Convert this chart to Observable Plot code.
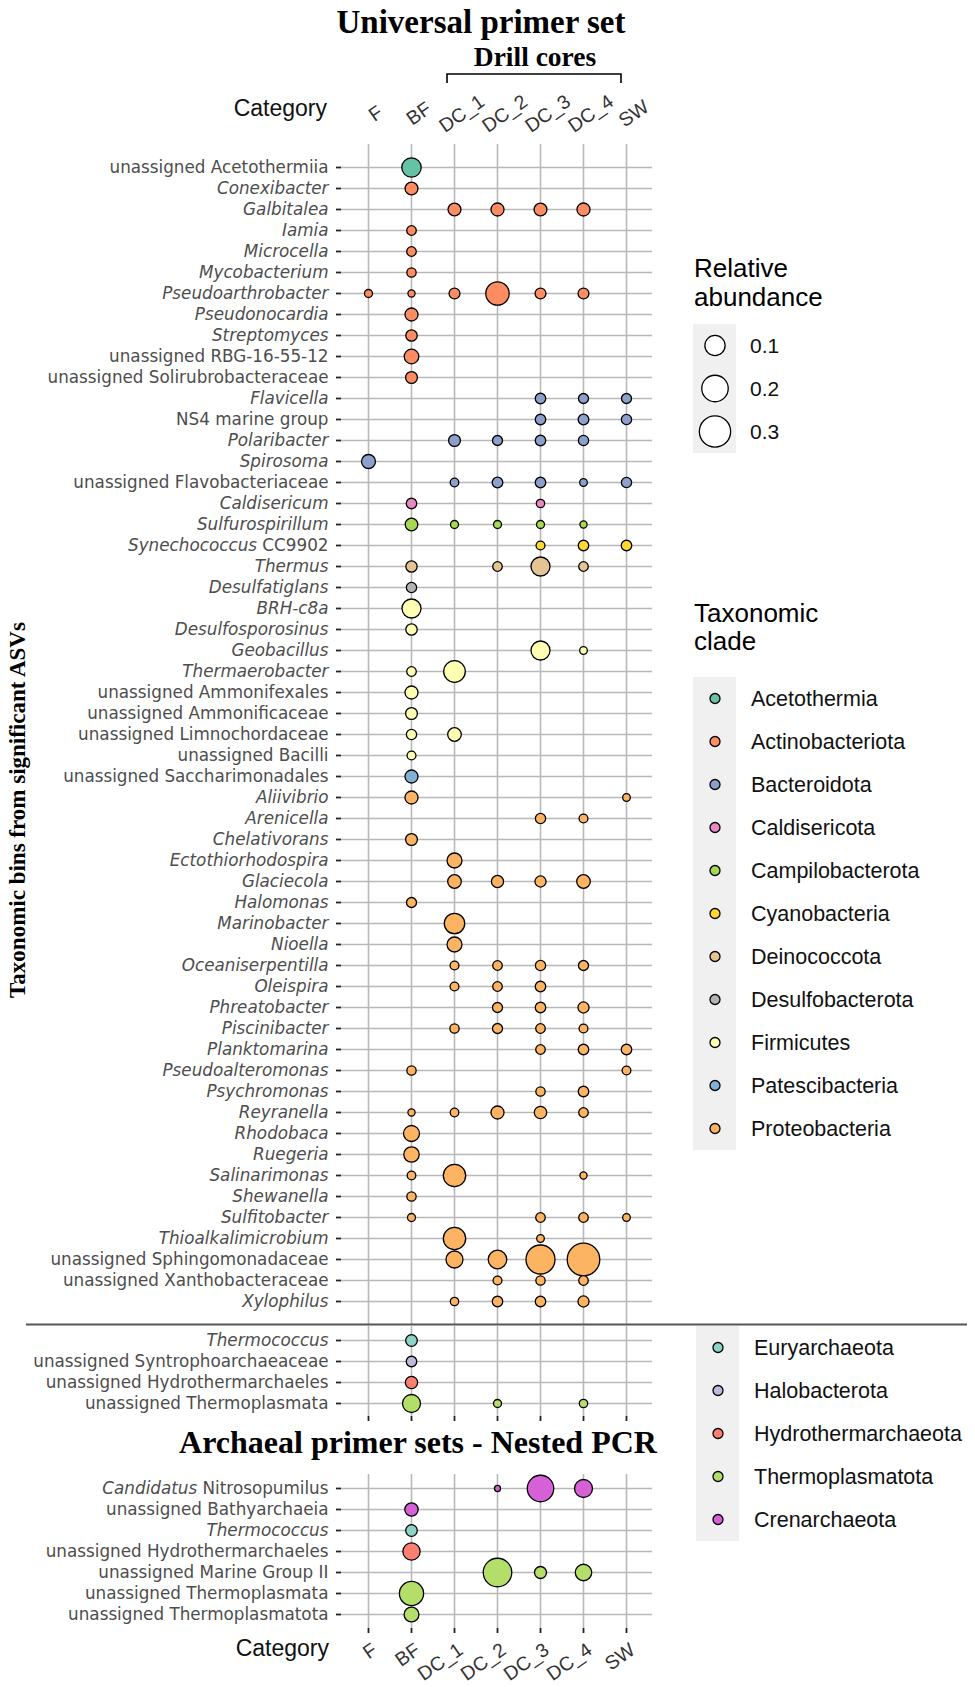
<!DOCTYPE html>
<html>
<head>
<meta charset="utf-8">
<script src="https://cdn.jsdelivr.net/npm/d3@7"></script>
<script src="https://cdn.jsdelivr.net/npm/@observablehq/plot@0.6"></script>
<style>
  body { margin: 0; background: #fff; }
  #root { position: relative; width: 975px; height: 1687px; overflow: hidden; background: #fff; }
  #root > svg { position: absolute; left: 0; }
  .overlay { position: absolute; left: 0; top: 0; pointer-events: none; }
</style>
</head>
<body>
<div id="root"></div>
<script>
// ---------------- DATA ----------------
const columns = ["F", "BF", "DC_1", "DC_2", "DC_3", "DC_4", "SW"];

const bacteriaTaxa = [
  "unassigned Acetothermiia", "Conexibacter", "Galbitalea", "Iamia", "Microcella", "Mycobacterium",
  "Pseudoarthrobacter", "Pseudonocardia", "Streptomyces", "unassigned RBG-16-55-12",
  "unassigned Solirubrobacteraceae", "Flavicella", "NS4 marine group", "Polaribacter", "Spirosoma",
  "unassigned Flavobacteriaceae", "Caldisericum", "Sulfurospirillum", "Synechococcus CC9902", "Thermus",
  "Desulfatiglans", "BRH-c8a", "Desulfosporosinus", "Geobacillus", "Thermaerobacter",
  "unassigned Ammonifexales", "unassigned Ammonificaceae", "unassigned Limnochordaceae",
  "unassigned Bacilli", "unassigned Saccharimonadales", "Aliivibrio", "Arenicella", "Chelativorans",
  "Ectothiorhodospira", "Glaciecola", "Halomonas", "Marinobacter", "Nioella", "Oceaniserpentilla",
  "Oleispira", "Phreatobacter", "Piscinibacter", "Planktomarina", "Pseudoalteromonas", "Psychromonas",
  "Reyranella", "Rhodobaca", "Ruegeria", "Salinarimonas", "Shewanella", "Sulfitobacter",
  "Thioalkalimicrobium", "unassigned Sphingomonadaceae", "unassigned Xanthobacteraceae", "Xylophilus"
];
const bacteriaClade = [
  "Acetothermia",
  "Actinobacteriota", "Actinobacteriota", "Actinobacteriota", "Actinobacteriota", "Actinobacteriota",
  "Actinobacteriota", "Actinobacteriota", "Actinobacteriota", "Actinobacteriota", "Actinobacteriota",
  "Bacteroidota", "Bacteroidota", "Bacteroidota", "Bacteroidota", "Bacteroidota",
  "Caldisericota", "Campilobacterota", "Cyanobacteria", "Deinococcota", "Desulfobacterota",
  "Firmicutes", "Firmicutes", "Firmicutes", "Firmicutes", "Firmicutes", "Firmicutes", "Firmicutes", "Firmicutes",
  "Patescibacteria",
  "Proteobacteria", "Proteobacteria", "Proteobacteria", "Proteobacteria", "Proteobacteria",
  "Proteobacteria", "Proteobacteria", "Proteobacteria", "Proteobacteria", "Proteobacteria",
  "Proteobacteria", "Proteobacteria", "Proteobacteria", "Proteobacteria", "Proteobacteria",
  "Proteobacteria", "Proteobacteria", "Proteobacteria", "Proteobacteria", "Proteobacteria",
  "Proteobacteria", "Proteobacteria", "Proteobacteria", "Proteobacteria", "Proteobacteria"
];
// relative abundance per column: F, BF, DC_1, DC_2, DC_3, DC_4, SW
const bacteriaAbundance = [
  [null, 0.090, null, null, null, null, null],
  [null, 0.027, null, null, null, null, null],
  [null, null, 0.027, 0.028, 0.027, 0.028, null],
  [null, 0.009, null, null, null, null, null],
  [null, 0.009, null, null, null, null, null],
  [null, 0.008, null, null, null, null, null],
  [0.004, 0.002, 0.015, 0.147, 0.015, 0.015, null],
  [null, 0.028, null, null, null, null, null],
  [null, 0.018, null, null, null, null, null],
  [null, 0.040, null, null, null, null, null],
  [null, 0.020, null, null, null, null, null],
  [null, null, null, null, 0.013, 0.011, 0.011],
  [null, null, null, null, 0.013, 0.014, 0.012],
  [null, null, 0.020, 0.011, 0.013, 0.012, null],
  [0.035, null, null, null, null, null, null],
  [null, null, 0.0056, 0.014, 0.013, 0.003, 0.012],
  [null, 0.013, null, null, 0.005, null, null],
  [null, 0.025, 0.004, 0.004, 0.004, 0.002, null],
  [null, null, null, null, 0.0065, 0.013, 0.013],
  [null, 0.017, null, 0.009, 0.085, 0.009, null],
  [null, 0.012, null, null, null, null, null],
  [null, 0.085, null, null, null, null, null],
  [null, 0.018, null, null, null, null, null],
  [null, null, null, null, 0.085, 0.003, null],
  [null, 0.009, 0.120, null, null, null, null],
  [null, 0.028, null, null, null, null, null],
  [null, 0.020, null, null, null, null, null],
  [null, 0.012, 0.032, null, null, null, null],
  [null, 0.0065, null, null, null, null, null],
  [null, 0.028, null, null, null, null, null],
  [null, 0.028, null, null, null, null, 0.003],
  [null, null, null, null, 0.012, 0.0065, null],
  [null, 0.020, null, null, null, null, null],
  [null, null, 0.043, null, null, null, null],
  [null, null, 0.032, 0.022, 0.016, 0.032, null],
  [null, 0.011, null, null, null, null, null],
  [null, null, 0.103, null, null, null, null],
  [null, null, 0.043, null, null, null, null],
  [null, null, 0.0065, 0.009, 0.012, 0.011, null],
  [null, null, 0.0065, 0.009, 0.013, null, null],
  [null, null, null, 0.011, 0.013, 0.016, null],
  [null, null, 0.008, 0.011, 0.009, 0.0065, null],
  [null, null, null, null, 0.009, 0.013, 0.013],
  [null, 0.008, null, null, null, null, 0.006],
  [null, null, null, null, 0.008, 0.013, null],
  [null, 0.002, 0.0056, 0.028, 0.024, 0.009, null],
  [null, 0.052, null, null, null, null, null],
  [null, 0.047, null, null, null, null, null],
  [null, 0.0056, 0.131, null, null, 0.002, null],
  [null, 0.008, null, null, null, null, null],
  [null, 0.004, null, null, 0.009, 0.009, 0.003],
  [null, null, 0.131, null, 0.003, null, null],
  [null, null, 0.062, 0.080, 0.250, 0.330, null],
  [null, null, null, 0.0065, 0.008, 0.009, null],
  [null, null, 0.005, 0.013, 0.013, 0.016, null]
];

const universalArchaeaTaxa = [
  "Thermococcus", "unassigned Syntrophoarchaeaceae", "unassigned Hydrothermarchaeles", "unassigned Thermoplasmata"
];
const universalArchaeaClade = ["Euryarchaeota", "Halobacterota", "Hydrothermarchaeota", "Thermoplasmatota"];
const universalArchaeaAbundance = [
  [null, 0.019, null, null, null, null, null],
  [null, 0.013, null, null, null, null, null],
  [null, 0.023, null, null, null, null, null],
  [null, 0.073, null, 0.004, null, 0.005, null]
];

const nestedTaxa = [
  "Candidatus Nitrosopumilus", "unassigned Bathyarchaeia", "Thermococcus", "unassigned Hydrothermarchaeles",
  "unassigned Marine Group II", "unassigned Thermoplasmata", "unassigned Thermoplasmatota"
];
const nestedClade = [
  "Crenarchaeota", "Crenarchaeota", "Euryarchaeota", "Hydrothermarchaeota",
  "Thermoplasmatota", "Thermoplasmatota", "Thermoplasmatota"
];
const nestedAbundance = [
  [null, null, null, 0.0005, 0.200, 0.073, null],
  [null, 0.030, null, null, null, null, null],
  [null, 0.019, null, null, null, null, null],
  [null, 0.065, null, null, null, null, null],
  [null, null, null, 0.240, 0.021, 0.057, null],
  [null, 0.160, null, null, null, null, null],
  [null, 0.042, null, null, null, null, null]
];

const bacterialClades = ["Acetothermia", "Actinobacteriota", "Bacteroidota", "Caldisericota", "Campilobacterota",
  "Cyanobacteria", "Deinococcota", "Desulfobacterota", "Firmicutes", "Patescibacteria", "Proteobacteria"];
const bacterialColors = ["#66c2a5", "#fc8d62", "#8da0cb", "#e78ac3", "#a6d854",
  "#ffd92f", "#e5c494", "#b3b3b3", "#ffffb3", "#80b1d3", "#fdb462"];
const archaealClades = ["Euryarchaeota", "Halobacterota", "Hydrothermarchaeota", "Thermoplasmatota", "Crenarchaeota"];
const archaealColors = ["#8dd3c7", "#bebada", "#fb8072", "#b3de69", "#d660d6"];

const sizeLegendValues = [0.1, 0.2, 0.3];

// label styling: which parts are italic
const uprightTaxa = ["NS4 marine group"];
const italicPrefixTaxa = { "Synechococcus CC9902": "Synechococcus", "Candidatus Nitrosopumilus": "Candidatus" };

// ---------------- BUILD ----------------
function tidy(taxa, clades, abundance) {
  const out = [];
  taxa.forEach((t, i) => abundance[i].forEach((v, j) => {
    if (v != null) out.push({ taxon: t, clade: clades[i], column: columns[j], value: v });
  }));
  return out;
}

const colorScale = {
  type: "ordinal",
  domain: bacterialClades.concat(archaealClades),
  range: bacterialColors.concat(archaealColors)
};
const rScale = { type: "sqrt", domain: [0, 0.34], range: [2.5, 16.5] };
const gridColor = "#b8b8b8";
const W = 975, ML = 341, MR = 323;

function panel(taxa, clades, abundance, opts) {
  const data = tidy(taxa, clades, abundance);
  const marks = [
    Plot.ruleY(taxa, { stroke: gridColor, strokeWidth: 1.6 }),
    Plot.ruleX(columns, { stroke: gridColor, strokeWidth: 1.6 }),
    Plot.axisY({ tickSize: 5, tickPadding: 8, fontSize: 16.8, fill: "#4d4d4d", stroke: "#222", strokeWidth: 1.8, label: null }),
    Plot.dot(data, { x: "column", y: "taxon", r: "value", fill: "clade", stroke: "#000", strokeWidth: 1.3 })
  ];
  if (opts.topLabels) {
    marks.push(Plot.text(columns, {
      x: d => d, text: d => d, frameAnchor: "top", dy: -37, dx: 3, rotate: -35,
      textAnchor: "middle", fontSize: 19.5, fill: "#333", fontFamily: "Liberation Sans"
    }));
  }
  if (opts.bottomTicks) {
    marks.push(Plot.axisX({ anchor: "bottom", tickSize: 5, tickFormat: () => "", stroke: "#222", strokeWidth: 1.8, label: null }));
  }
  if (opts.bottomLabels) {
    marks.push(Plot.text(columns, {
      x: d => d, text: d => d, frameAnchor: "bottom", dy: 13, dx: 2, rotate: -35,
      textAnchor: "end", lineAnchor: "top", fontSize: 19.5, fill: "#333", fontFamily: "Liberation Sans"
    }));
  }
  const p = Plot.plot({
    width: W,
    height: opts.height,
    marginLeft: ML, marginRight: MR,
    marginTop: opts.marginTop, marginBottom: opts.marginBottom,
    style: { fontFamily: "DejaVu Sans", background: "transparent", overflow: "visible" },
    x: { type: "point", domain: columns, padding: 0.6, axis: opts.bottomTicks ? undefined : null },
    y: { type: "point", domain: taxa, padding: 0.6 },
    r: rScale,
    color: colorScale,
    marks
  });
  p.style.top = opts.top + "px";
  // italic formatting of the tick labels
  p.querySelectorAll('g[aria-label="y-axis tick label"] text').forEach(el => {
    const name = el.textContent;
    el.textContent = "";
    el.setAttribute("fill", "#4d4d4d");
    el.setAttribute("font-family", "DejaVu Sans");
    el.style.whiteSpace = "pre";
    let parts;
    if (name.startsWith("unassigned ") || uprightTaxa.includes(name)) parts = [[name, false]];
    else if (italicPrefixTaxa[name]) {
      const pre = italicPrefixTaxa[name];
      parts = [[pre, true], [name.slice(pre.length), false]];
    } else parts = [[name, true]];
    parts.forEach(([s, it]) => {
      const ts = document.createElementNS("http://www.w3.org/2000/svg", "tspan");
      ts.textContent = s;
      if (it) ts.setAttribute("font-style", "italic");
      el.appendChild(ts);
    });
  });
  return p;
}

const root = document.getElementById("root");

const p1 = panel(bacteriaTaxa, bacteriaClade, bacteriaAbundance,
  { height: 1324, marginTop: 144, marginBottom: 0, top: 0, topLabels: true });
const p2 = panel(universalArchaeaTaxa, universalArchaeaClade, universalArchaeaAbundance,
  { height: 100, marginTop: 0, marginBottom: 10, top: 1326, bottomTicks: true });
const p3 = panel(nestedTaxa, nestedClade, nestedAbundance,
  { height: 213, marginTop: 0, marginBottom: 59, top: 1474, bottomTicks: true, bottomLabels: true });
root.appendChild(p1);
root.appendChild(p2);
root.appendChild(p3);

// ---------------- ANNOTATIONS & LEGENDS ----------------
const NS = "http://www.w3.org/2000/svg";
const ov = document.createElementNS(NS, "svg");
ov.setAttribute("class", "overlay");
ov.setAttribute("width", W);
ov.setAttribute("height", 1687);
root.appendChild(ov);

function el(tag, attrs, text) {
  const e = document.createElementNS(NS, tag);
  for (const k in attrs) e.setAttribute(k, attrs[k]);
  if (text != null) e.textContent = text;
  ov.appendChild(e);
  return e;
}
const serif = "Liberation Serif, Times New Roman, serif";
const sans = "Liberation Sans, Arial, sans-serif";

el("text", { x: 481, y: 33, "text-anchor": "middle", "font-family": serif, "font-weight": "bold", "font-size": 33, fill: "#000" }, "Universal primer set");
el("text", { x: 535, y: 66, "text-anchor": "middle", "font-family": serif, "font-weight": "bold", "font-size": 27.5, fill: "#000" }, "Drill cores");
el("path", { d: "M447,83V74H621V83", fill: "none", stroke: "#000", "stroke-width": 1.6 });
el("text", { x: 327, y: 116, "text-anchor": "end", "font-family": sans, "font-size": 23, fill: "#111" }, "Category");
el("text", { x: 329, y: 1656, "text-anchor": "end", "font-family": sans, "font-size": 23, fill: "#111" }, "Category");
el("text", { x: 418, y: 1453, "text-anchor": "middle", "font-family": serif, "font-weight": "bold", "font-size": 32, fill: "#000" }, "Archaeal primer sets - Nested PCR");
el("text", { transform: "translate(25,810) rotate(-90)", "text-anchor": "middle", "font-family": serif, "font-weight": "bold", "font-size": 23, fill: "#000" }, "Taxonomic bins from significant ASVs");
// separator between the bacterial and archaeal panels
el("line", { x1: 26, x2: 967, y1: 1324.5, y2: 1324.5, stroke: "#555", "stroke-width": 2 });

// scales from the plot
const rs = p1.scale("r");
const rOf = v => (rs && rs.apply) ? rs.apply(v) : d3.scaleSqrt().domain(rScale.domain).range(rScale.range)(v);
const cs = p1.scale("color");
const colorOf = c => (cs && cs.apply) ? cs.apply(c) : colorScale.range[colorScale.domain.indexOf(c)];

// size legend
el("text", { x: 694, y: 277, "font-family": sans, "font-size": 26, fill: "#000" }, "Relative");
el("text", { x: 694, y: 306, "font-family": sans, "font-size": 26, fill: "#000" }, "abundance");
el("rect", { x: 693, y: 324, width: 43, height: 43 * sizeLegendValues.length, fill: "#f0f0f0" });
sizeLegendValues.forEach((v, i) => {
  const cy = 345.5 + 43 * i;
  el("circle", { cx: 715, cy, r: rOf(v), fill: "#fff", stroke: "#000", "stroke-width": 1.3 });
  el("text", { x: 750, y: cy + 7.5, "font-family": sans, "font-size": 21, fill: "#111" }, String(v));
});

// clade legends
function cladeLegend(list, x0, y0, titleLines) {
  if (titleLines) {
    titleLines.forEach((t, i) => el("text", { x: 694, y: y0 - 55 + 28 * i, "font-family": sans, "font-size": 26, fill: "#000" }, t));
  }
  el("rect", { x: x0, y: y0, width: 43, height: 43 * list.length, fill: "#f0f0f0" });
  list.forEach((c, i) => {
    const cy = y0 + 21.5 + 43 * i;
    el("circle", { cx: x0 + 22, cy, r: 5, fill: colorOf(c), stroke: "#000", "stroke-width": 1.3 });
    el("text", { x: x0 + 58, y: cy + 7.5, "font-family": sans, "font-size": 21.5, fill: "#111" }, c);
  });
}
cladeLegend(bacterialClades, 693, 677, ["Taxonomic", "clade"]);
cladeLegend(archaealClades, 696, 1326, null);
</script>
</body>
</html>
